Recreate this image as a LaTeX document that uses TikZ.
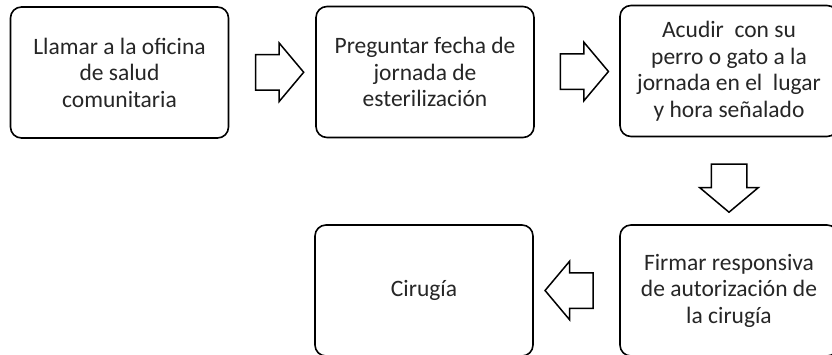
\documentclass[tikz,border=0pt]{standalone}
\usepackage{fontspec}
\setmainfont{Carlito}
\usetikzlibrary{shapes.arrows,calc}
\begin{document}
\begin{tikzpicture}[x=1pt,y=-1pt,
  stepbox/.style={draw=black,line width=1.6pt,rounded corners=11pt,fill=white,
    minimum width=218pt,minimum height=131pt,inner sep=0pt,align=center,
    font=\fontsize{23.5}{26.5}\selectfont,text=black!85},
  blockarrow/.style={draw=black,line width=1.5pt,single arrow,fill=white,
    inner xsep=0pt,inner ysep=17pt,minimum height=48pt,
    single arrow head extend=11.5pt,single arrow head indent=0pt,
    single arrow tip angle=100}]
\useasboundingbox (0,0) rectangle (832,354);
\clip (0,0) rectangle (832,354);
\node[stepbox] (s1) at (119.5,72.5) {Llamar a la oficina\\de salud\\comunitaria};
\node[stepbox] (s2) at (425,72) {Preguntar fecha de\\jornada de\\esterilización};
\node[stepbox] (s3) at (729,71) {Acudir\ \ con su\\perro o gato a la\\jornada en el\ \ lugar\\y hora señalado};
\node[stepbox] (s4) at (424,290.5) {Cirugía};
\node[stepbox] (s5) at (729,290.5) {Firmar responsiva\\de autorización de\\la cirugía};
\node[blockarrow] (a1) at ($(s1.east)!0.5!(s2.west)$) {};
\node[blockarrow] (a2) at ($(s2.east)!0.5!(s3.west)$) {};
\node[blockarrow,rotate=-90] (a3) at ($(s3.south)!0.5!(s5.north)$) {};
\node[blockarrow,rotate=180] (a4) at ($(s5.west)!0.5!(s4.east)$) {};
\end{tikzpicture}
\end{document}
